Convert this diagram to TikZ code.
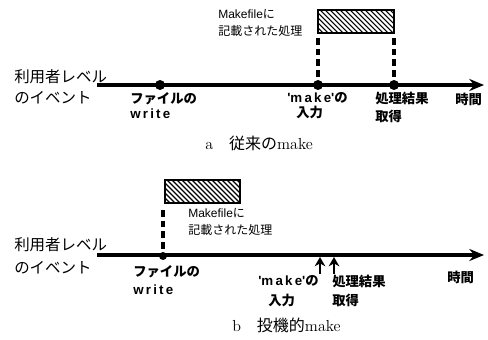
\documentclass[tikz,border=0pt]{standalone}
\usepackage{fontspec}
\newfontfamily\jp{Noto Sans CJK JP}
\newfontfamily\lsans{Liberation Sans}
\usetikzlibrary{arrows.meta}
\begin{document}
\begin{tikzpicture}[x=0.75pt,y=-0.75pt,
  axis/.style={line width=2.4pt,-{Stealth[length=11pt,width=9pt]}},
  evdot/.style={circle,fill,inner sep=0pt,minimum size=7.5pt},
  dline/.style={line width=2.4pt,dash pattern=on 5pt off 3pt},
  hbox/.style={draw,line width=1.6pt},
  hatch/.style={line width=0.8pt},
  side/.style={anchor=west,inner sep=0pt,font=\jp\fontsize{11.6}{12}\selectfont},
  lbl/.style={anchor=west,inner sep=0pt,font=\jp\bfseries\fontsize{10}{11}\selectfont},
  small/.style={anchor=west,inner sep=0pt,font=\jp\fontsize{9}{10}\selectfont},
  captext/.style={anchor=west,inner sep=0pt,font=\fontsize{12}{14}\selectfont},
  uparr/.style={line width=2.2pt,-{Stealth[length=7pt,width=8pt]}}]
\useasboundingbox (0,0) rectangle (488,339);
% ---------- panel a ----------
\coordinate (a0) at (97,85);
\coordinate (a1) at (484,85);
\draw[axis] (a0) -- (a1);
\node[evdot] (aw) at (160,85) {};
\node[evdot] (am) at (318,85) {};
\node[evdot] (ar) at (394,85) {};
\coordinate (abl) at (318,10);
\coordinate (abr) at (394,33);
\begin{scope}
\clip (abl) rectangle (abr);
\foreach \i in {0,...,21} {\draw[hatch] (295+\i*5,10) -- ++(23,23);}
\end{scope}
\draw[hbox] (abl) rectangle (abr);
\coordinate (ad1) at (318,38);
\coordinate (ad2) at (394,38);
\draw[dline] (ad1) -- (am);
\draw[dline] (ad2) -- (ar);
\node[small] (amk1) at (218,14) {{\lsans Makefile}に};
\node[small] (amk2) at (218,31) {記載された処理};
\node[side] (au1) at (14,77) {利用者レベル};
\node[side] (au2) at (14,98) {のイベント};
\node[lbl] (af1) at (130,99) {ファイルの};
\node[lbl] (af2) at (130,114) {{\lsans w\,r\,i\,t\,e}};
\node[lbl] (am1) at (287,98) {{\lsans 'm\,a\,k\,e'}の};
\node[lbl] (am2) at (296,112) {入力};
\node[lbl] (ar1) at (375,98) {処理結果};
\node[lbl] (ar2) at (375,116) {取得};
\node[lbl] (at) at (455,99) {時間};
\node[captext] (acap) at (205,143) {a\quad{\jp 従来の}make};
% ---------- panel b ----------
\coordinate (b0) at (97,255);
\coordinate (b1) at (484,255);
\draw[axis] (b0) -- (b1);
\node[evdot,minimum size=6pt] (bw) at (163,256) {};
\coordinate (bbl) at (165,180);
\coordinate (bbr) at (240,203);
\begin{scope}
\clip (bbl) rectangle (bbr);
\foreach \i in {0,...,21} {\draw[hatch] (142+\i*5,180) -- ++(23,23);}
\end{scope}
\draw[hbox] (bbl) rectangle (bbr);
\coordinate (bd1) at (163,210);
\draw[dline] (bd1) -- (bw);
\node[small] (bmk1) at (188,213) {{\lsans Makefile}に};
\node[small] (bmk2) at (188,230) {記載された処理};
\node[side] (bu1) at (14,245) {利用者レベル};
\node[side] (bu2) at (14,268) {のイベント};
\node[lbl] (bf1) at (133,272) {ファイルの};
\node[lbl] (bf2) at (133,290) {{\lsans w\,r\,i\,t\,e}};
\coordinate (bm0) at (320,274);
\coordinate (bm) at (320,257);
\coordinate (br0) at (334,274);
\coordinate (br) at (334,257);
\draw[uparr] (bm0) -- (bm);
\draw[uparr] (br0) -- (br);
\node[lbl] (bm1) at (258,281) {{\lsans 'm\,a\,k\,e'}の};
\node[lbl] (bm2) at (268,300) {入力};
\node[lbl] (br1) at (332,281) {処理結果};
\node[lbl] (br2) at (332,300) {取得};
\node[lbl] (bt) at (447,277) {時間};
\node[captext] (bcap) at (232,325) {b\quad{\jp 投機的}make};
\end{tikzpicture}
\end{document}
